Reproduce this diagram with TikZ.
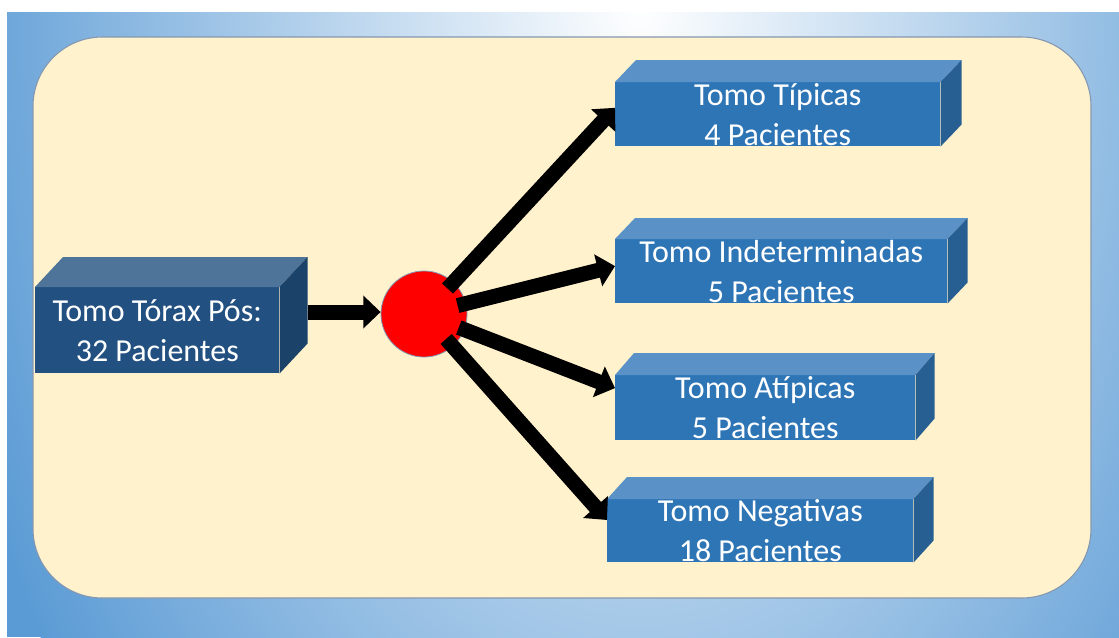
\documentclass[tikz,border=0pt]{standalone}
\usepackage{fontspec}
\setmainfont{Carlito}
\usetikzlibrary{arrows.meta,calc}
\definecolor{bgblue}{HTML}{5B9BD5}
\definecolor{cream}{HTML}{FFF2CC}
\definecolor{creamedge}{HTML}{8497B0}
\definecolor{dfront}{HTML}{215081}
\definecolor{dtop}{HTML}{4E7599}
\definecolor{dside}{HTML}{1B4268}
\definecolor{lfront}{HTML}{2E75B6}
\definecolor{ltop}{HTML}{5A92C7}
\definecolor{lside}{HTML}{275F93}
\tikzset{
  boxtext/.style={font=\fontsize{24}{30}\selectfont, text=white, align=center, inner sep=0pt, anchor=north west},
  flow/.style={line width=11.25pt, -{Triangle[width=24pt,length=13pt]}, black},
}
\begin{document}
\begin{tikzpicture}[x=0.75pt,y=-0.75pt]
\useasboundingbox (0,0) rectangle (1119,637);
% background
\fill[bgblue] (7,12) rectangle (1119,637);
\begin{scope}
  \clip (7,12) rectangle (1119,637);
  \shade[inner color=white, outer color=bgblue] (640,0) ellipse [x radius=720, y radius=1150];
\end{scope}
% cream panel
\draw[creamedge, line width=0.8pt, fill=cream, rounded corners=52pt] (33,37) rectangle (1091,598);

% left box
\node[boxtext, fill=dfront, minimum width=183pt, minimum height=64.5pt] (b0) at (35,287) {Tomo Tórax Pós:\\32 Pacientes};
\fill[dtop] (b0.north west) -- ++(28,-30) -- ($(b0.north east)+(28,-30)$) -- (b0.north east) -- cycle;
\fill[dside] (b0.north east) -- ++(28,-30) -- ($(b0.south east)+(28,-30)$) -- (b0.south east) -- cycle;

% right boxes
\node[boxtext, fill=lfront, minimum width=243.75pt, minimum height=48pt] (b1) at (615,82) {Tomo Típicas\\4 Pacientes};
\fill[ltop] (b1.north west) -- ++(21,-22) -- ($(b1.north east)+(21,-22)$) -- (b1.north east) -- cycle;
\fill[lside] (b1.north east) -- ++(21,-22) -- ($(b1.south east)+(21,-22)$) -- (b1.south east) -- cycle;

\node[boxtext, fill=lfront, minimum width=249pt, minimum height=48pt] (b2) at (615,239) {Tomo Indeterminadas\\5 Pacientes};
\fill[ltop] (b2.north west) -- ++(20,-21) -- ($(b2.north east)+(20,-21)$) -- (b2.north east) -- cycle;
\fill[lside] (b2.north east) -- ++(20,-21) -- ($(b2.south east)+(20,-21)$) -- (b2.south east) -- cycle;

\node[boxtext, fill=lfront, minimum width=225pt, minimum height=48.75pt] (b3) at (615,375) {Tomo Atípicas\\5 Pacientes};
\fill[ltop] (b3.north west) -- ++(19,-22) -- ($(b3.north east)+(19,-22)$) -- (b3.north east) -- cycle;
\fill[lside] (b3.north east) -- ++(19,-22) -- ($(b3.south east)+(19,-22)$) -- (b3.south east) -- cycle;

\node[boxtext, fill=lfront, minimum width=229.5pt, minimum height=47.25pt] (b4) at (607,499) {Tomo Negativas\\18 Pacientes};
\fill[ltop] (b4.north west) -- ++(20,-22) -- ($(b4.north east)+(20,-22)$) -- (b4.north east) -- cycle;
\fill[lside] (b4.north east) -- ++(20,-22) -- ($(b4.south east)+(20,-22)$) -- (b4.south east) -- cycle;

% hub
\node[circle, fill=red, draw=creamedge, line width=0.6pt, minimum size=64.5pt, inner sep=0pt] (c) at (424,314) {};

% arrows
\coordinate (b0r) at ($(b0.north east)+(28,25)$);
\draw[flow] (b0r) -- (b0r -| c.west);
\draw[flow, shorten <=26pt] (c.center) -- ($(b1.north west)!0.4!(b1.south west)$);
\draw[flow, shorten <=26pt] (c.center) -- ($(b2.north west)!0.42!(b2.south west)$);
\draw[flow, shorten <=28pt] (c.center) -- ($(b3.north west)!0.2!(b3.south west)$);
\draw[flow, shorten <=25pt] (c.center) -- ($(b4.north west)!0.33!(b4.south west)$);
\end{tikzpicture}
\end{document}
